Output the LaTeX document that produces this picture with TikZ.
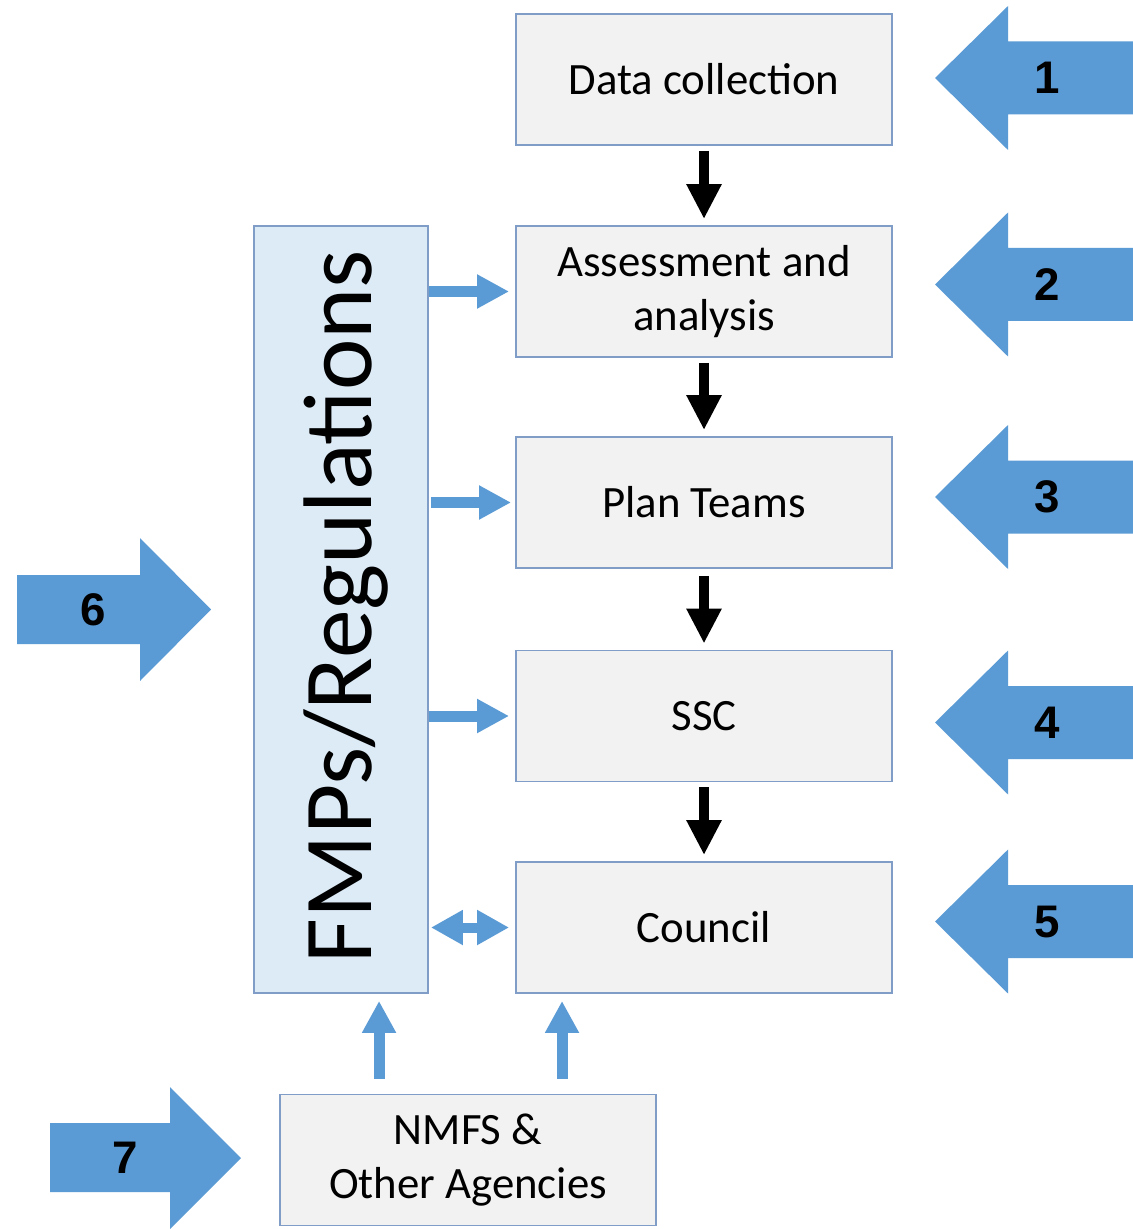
\documentclass[tikz,border=0pt]{standalone}
\usepackage{fontspec}
\setmainfont{Carlito}
\newfontfamily\numfont{Liberation Sans}
\usetikzlibrary{arrows.meta}
\definecolor{boxfill}{HTML}{F2F2F2}
\definecolor{boxline}{HTML}{7F9DC6}
\definecolor{fmpfill}{HTML}{DDEBF7}
\definecolor{bigblue}{HTML}{5B9BD5}
\tikzset{
  stagebox/.style={draw=boxline, fill=boxfill, line width=1.1pt, minimum width=7.52cm, minimum height=2.62cm, align=center, inner sep=0pt, font=\fontsize{25.5}{30.6}\selectfont},
  fmpbox/.style={draw=boxline, fill=fmpfill, line width=1.1pt, minimum width=3.48cm, minimum height=15.34cm, inner sep=0pt},
  blkarrow/.style={line width=0.2cm, black, -{Triangle[length=0.7cm,width=0.66cm]}},
  bluearrow/.style={line width=0.22cm, bigblue, -{Triangle[length=0.64cm,width=0.64cm]}},
  bluedouble/.style={line width=0.2cm, bigblue, {Triangle[length=0.64cm,width=0.66cm]}-{Triangle[length=0.64cm,width=0.66cm]}},
  bigarrow/.style={fill=bigblue, draw=none},
  numlabel/.style={font=\numfont\bfseries\fontsize{26}{30}\selectfont, text=black, inner sep=0pt}
}
\begin{document}
\begin{tikzpicture}[x=0.02cm,y=-0.02cm]
\useasboundingbox (0,0) rectangle (1132,1229);
\fill[white] (0,0) rectangle (1132,1229);

% stage boxes
\node[stagebox] (dc) at (704,79.5) {Data collection};
\node[stagebox] (aa) at (704,291.5) {Assessment and\\analysis};
\node[stagebox] (pt) at (704,502.5) {Plan Teams};
\node[stagebox] (ssc) at (704,716) {SSC};
\node[stagebox] (co) at (704,927.5) {Council};
\node[fmpbox] (fmp) at (341,609.5) {};
\node[rotate=90, font=\fontsize{55.5}{60}\selectfont, inner sep=0pt] (fmptext) at ([xshift=0.1cm,yshift=0.06cm]fmp.center) {FMPs/Regulations};
\node[stagebox] (nm) at (468,1160) {NMFS \&\\Other Agencies};

% black flow arrows
\draw[blkarrow, shorten <=0.1cm, shorten >=0.12cm] (dc) -- (aa);
\draw[blkarrow, shorten <=0.1cm, shorten >=0.12cm] (aa) -- (pt);
\draw[blkarrow, shorten <=0.14cm, shorten >=0.12cm] (pt) -- (ssc);
\draw[blkarrow, shorten <=0.1cm, shorten >=0.12cm] (ssc) -- (co);

% blue arrows from FMPs
\draw[bluearrow, shorten >=0.12cm] (fmp.east |- aa.west) -- (aa.west);
\draw[bluearrow, shorten <=0.04cm, shorten >=0.08cm] (fmp.east |- pt.west) -- (pt.west);
\draw[bluearrow, shorten >=0.12cm] (fmp.east |- ssc.west) -- (ssc.west);
\draw[bluedouble, shorten <=0.04cm, shorten >=0.12cm] (fmp.east |- co.west) -- (co.west);

% up arrows from NMFS
\coordinate (u1) at ([xshift=2cm]nm.north west);
\coordinate (u2) at ([xshift=5.66cm]nm.north west);
\draw[bluearrow, shorten <=0.3cm, shorten >=0.14cm] (u1) -- (u1 |- fmp.south);
\draw[bluearrow, shorten <=0.3cm, shorten >=0.14cm] (u2) -- (u2 |- co.south);

% big numbered arrows on the right (pointing left)
\foreach \c/\n in {78/1, 284.5/2, 497/3, 722.5/4, 921.5/5}{
  \fill[bigblue] (935,\c) -- (1008,\c-72) -- (1008,\c-36.5) -- (1140,\c-36.5) -- (1140,\c+36.5) -- (1008,\c+36.5) -- (1008,\c+72) -- cycle;
  \node[numlabel] (n\n) at (1047,\c) {\n};
}
% big numbered arrows on the left (pointing right)
\fill[bigblue] (211,609.5) -- (140,538) -- (140,575) -- (17,575) -- (17,644) -- (140,644) -- (140,681) -- cycle;
\node[numlabel] (n6) at (93,609.5) {6};
\fill[bigblue] (241,1158) -- (170,1087) -- (170,1123) -- (50,1123) -- (50,1192) -- (170,1192) -- (170,1229) -- cycle;
\node[numlabel] (n7) at (125,1158) {7};
\end{tikzpicture}
\end{document}
